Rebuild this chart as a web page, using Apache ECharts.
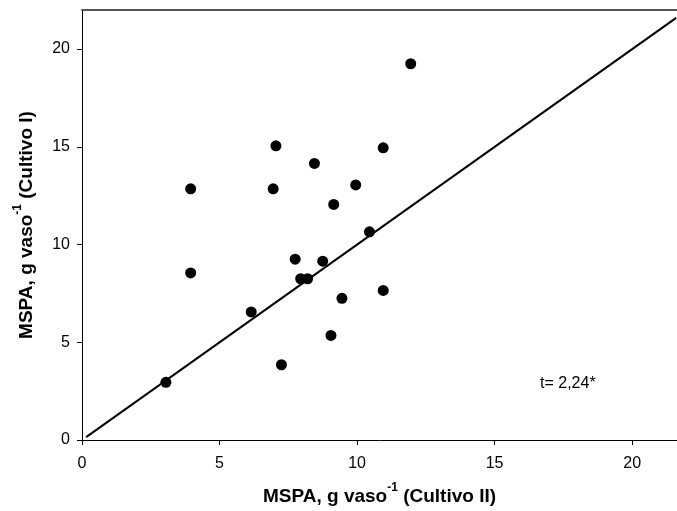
<!DOCTYPE html>
<html><head><meta charset="utf-8">
<script src="https://cdn.jsdelivr.net/npm/echarts@6/dist/echarts.min.js"></script>
<style>html,body{margin:0;padding:0;background:#fff}#c{width:677px;height:511px}</style>
</head><body><div id="c"></div>
<script>
const cultivoII = [3.95, 7.05, 8.45, 10.95, 6.95, 9.95, 9.15, 10.45, 7.75, 8.75, 7.95, 8.2, 3.95, 9.45, 10.95, 6.15, 9.05, 7.25, 3.05, 11.95];
const cultivoI  = [12.85, 15.05, 14.15, 14.95, 12.85, 13.05, 12.05, 10.65, 9.25, 9.15, 8.25, 8.25, 8.55, 7.25, 7.65, 6.55, 5.35, 3.85, 2.95, 19.25];
const lineX = [0.15, 21.6];
const lineY = [0.15, 21.6];
const xTicks = [0, 5, 10, 15, 20];
const yTicks = [0, 5, 10, 15, 20];
const tText = 't= 2,24*';

const chart = echarts.init(document.getElementById('c'));
const font = 'Liberation Sans, Arial, sans-serif';
const rich = {
  b: {fontSize: 19, fontWeight: 'bold', fontFamily: font, color: '#000', lineHeight: 24, verticalAlign: 'bottom'},
  s: {fontSize: 12, fontWeight: 'bold', fontFamily: font, color: '#000', lineHeight: 24, verticalAlign: 'top', padding: [0,0,10,0]}
};
chart.setOption({
  animation: false,
  grid: {left: 82, top: 10, right: 0, bottom: 68, show: false},
  xAxis: [{
    type: 'value', min: 0, max: 21.63, interval: 5,
    axisLine: {show: true, onZero: false, lineStyle: {color: '#000', width: 1}},
    axisTick: {show: true, length: 5, customValues: xTicks, lineStyle: {color: '#000'}},
    splitLine: {show: false},
    axisLabel: {color: '#000', fontSize: 16, fontFamily: font, margin: 16, customValues: xTicks},
    name: '{b|MSPA, g vaso}{s|-1}{b| (Cultivo II)}',
    nameLocation: 'middle', nameGap: 42,
    nameTextStyle: {rich: rich}
  }, {
    type: 'value', position: 'top', min: 0, max: 21.63,
    axisLine: {show: true, onZero: false, lineStyle: {color: '#555', width: 2}},
    axisTick: {show: false}, axisLabel: {show: false}, splitLine: {show: false}
  }],
  yAxis: {
    type: 'value', min: 0, max: 22, interval: 5,
    axisLine: {show: true, onZero: false, lineStyle: {color: '#000', width: 1}},
    axisTick: {show: true, length: 5, customValues: yTicks, lineStyle: {color: '#000'}},
    splitLine: {show: false},
    axisLabel: {color: '#000', fontSize: 16, fontFamily: font, margin: 12, customValues: yTicks},
    name: '{b|MSPA, g vaso}{s|-1}{b| (Cultivo I)}',
    nameLocation: 'middle', nameGap: 46, nameRotate: 90,
    nameTextStyle: {rich: rich}
  },
  series: [
    {type: 'line', data: lineX.map((x, i) => [x, lineY[i]]), symbol: 'none',
     lineStyle: {color: '#000', width: 2}, silent: true, clip: true},
    {type: 'scatter', data: cultivoII.map((x, i) => [x, cultivoI[i]]),
     symbol: 'circle', symbolSize: 11, itemStyle: {color: '#000', opacity: 1}}
  ],
  graphic: [{type: 'text', left: 540, top: 376,
    style: {text: tText, fontSize: 16, fontFamily: font, fill: '#000'}}]
});
</script></body></html>
